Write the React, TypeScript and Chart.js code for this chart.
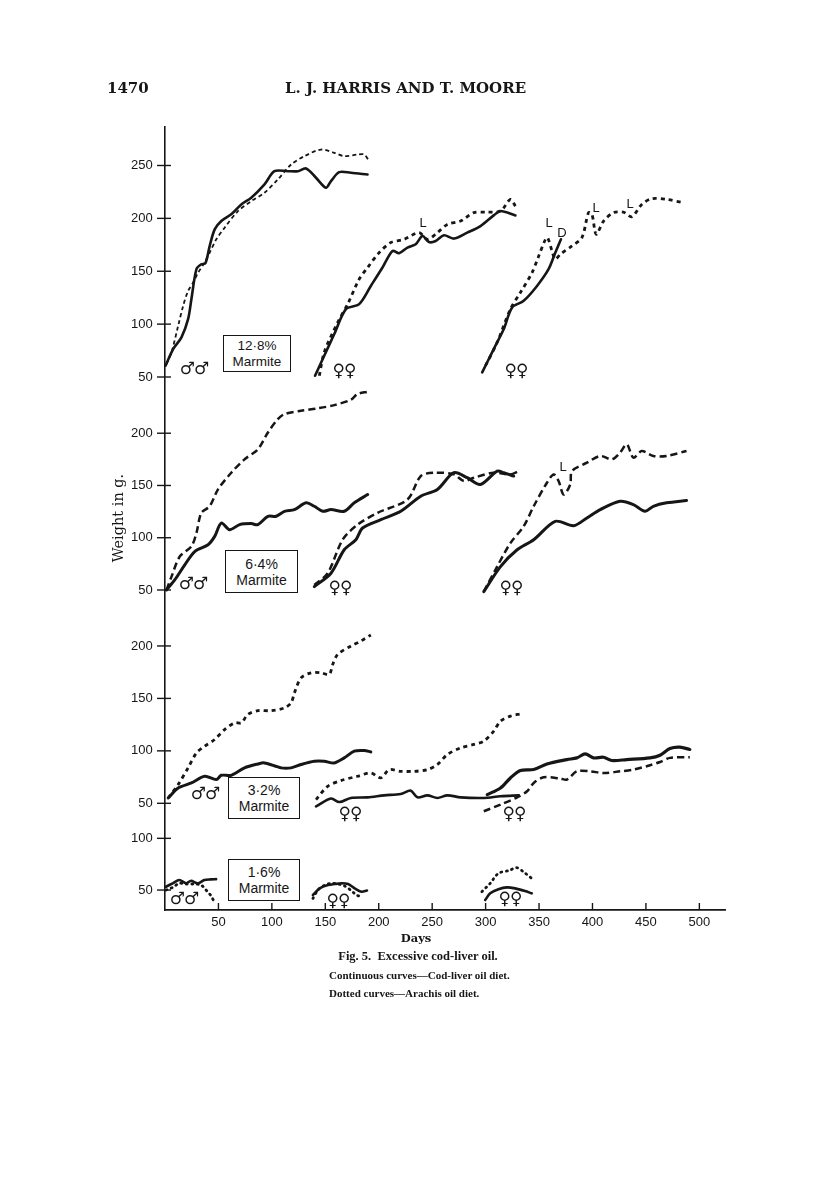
import React, { useEffect, useRef } from 'react';
import { Chart, registerables } from 'chart.js';

Chart.register(...registerables);

type Pt = [number, number];

// ---- x axis ----
const xTickValues = [50, 100, 150, 200, 250, 300, 350, 400, 450, 500];
const xMin = 0;
const xMax = 524;

// ---- y axes (one per panel) ----
const yTicks128 = [50, 100, 150, 200, 250];
const yTicks64 = [50, 100, 150, 200];
const yTicks32 = [50, 100, 150, 200];
const yTicks16 = [50, 100];

// ---- 12.8% Marmite ----
const cod128Males: Pt[] = [[0.5,60.7],[7.6,76.4],[15.4,87.5],[21.6,104.7],[24.7,123.6],[29.4,151.9],[34,156.6],[37.8,157.5],[41.8,173.9],[46.5,189.6],[52.7,197.5],[62,203.8],[71.4,213.2],[80.7,219.5],[93.1,232.1],[102.4,244.6],[114.9,244.6],[124.3,244.6],[132,247.2],[141.3,238.4],[150.6,229],[155.3,235.2],[163,243.7],[173.9,243.1],[189.5,241.5]];
const ara128Males: Pt[] = [[1.4,62.3],[6.1,73.3],[12.3,98.4],[17,117.3],[21.6,131.4],[26.3,139.3],[31,148.8],[37.1,158.2],[41.8,167.6],[48,180.2],[55.8,191.2],[68.3,206.9],[80.7,216.3],[93.1,224.2],[105.6,236.8],[118,250.9],[130.4,258.8],[146,265.1],[158.4,262],[167.7,258.8],[180.2,260.4],[186.4,260.4],[190.1,255.7]];
const cod128FemA: Pt[] = [[140.4,51.2],[149,70.1],[158.4,90.6],[169.3,114.2],[181.7,118.9],[192.6,136.1],[203.5,153.5],[212.9,169.2],[219,167],[226.9,172.4],[234.6,175.5],[240.9,183.3],[247,177.6],[253.3,178.6],[261,184],[270.3,180.9],[282.8,186.5],[295.2,192.7],[307.6,202.8],[313.9,206.9],[327.9,202.8]];
const ara128FemA: Pt[] = [[144.4,51.2],[149,73.3],[161.6,101.6],[170.9,118.9],[181.7,142.5],[189.6,153.5],[200.4,167.6],[211.3,177.1],[223.7,180.2],[237.7,186.5],[245.5,180.2],[254.9,186.5],[264.2,194.3],[276.6,197.5],[289,205.4],[301.5,205.9],[313.9,206.9],[323.2,217.9],[327.9,211.6]];
const cod128FemB: Pt[] = [[296.8,54.4],[307.6,76.4],[317,95.3],[324.8,115.8],[335.6,122],[348.1,136.1],[358.9,151.9],[365.2,167.6],[370.5,180.2]];
const ara128FemB: Pt[] = [[299.9,60.7],[310.8,82.7],[323.2,114.2],[332.6,129.9],[343.5,148.8],[349.7,164.4],[356,180.2],[358,181.8],[362.1,169.2],[365.2,161.3],[369.9,166],[380.8,173.9],[390.1,181.8],[396.3,205.4],[399.5,203.8],[403.5,184.9],[410.4,197.5],[419.7,205.4],[429,205.9],[436.9,201.6],[446.1,213.2],[455.4,218.6],[469.4,217.9],[484.9,214.8]];

// ---- 6.4% Marmite ----
const cod64Males: Pt[] = [[1.4,50],[9.1,59.6],[18.5,74],[27.8,86.8],[40.3,93.3],[46.5,101.3],[52.7,114.1],[60.4,107.7],[69.8,112.5],[80.7,113.5],[86.9,112.5],[96.3,120.5],[104,120.5],[111.8,125.3],[121.1,126.9],[132,133.4],[139.7,130.1],[147.6,125.3],[155.3,126.9],[167.7,125.3],[177.1,133.4],[189.6,141.3]];
const ara64Males: Pt[] = [[1.4,50],[6.1,62.8],[13.8,82],[24.7,91.7],[29.4,104.5],[34,123.8],[41.8,130.1],[49.6,146.2],[62,162.2],[74.4,175],[86.9,184.6],[96.3,200.7],[105.6,213.5],[111.8,218.3],[127.3,221.5],[142.9,223.8],[158.4,226.9],[173.9,232],[180.2,237.5],[189.6,239.7]];
const cod64FemA: Pt[] = [[139.7,53.2],[155.3,66],[167.7,88.5],[178.6,98.1],[184.9,109.3],[202,117.3],[220.6,125.3],[239.3,139.7],[254.9,146.2],[270.3,162.2],[282.8,157.4],[295.2,151],[310.8,163.7],[317,162.2],[326.3,159]];
const ara64FemA: Pt[] = [[139.7,54.8],[152.2,66],[166.2,98.1],[180.2,112.5],[198.9,123.8],[226.9,136.5],[239.3,159],[251.7,162.2],[270.3,160.6],[279.7,154.2],[289,157.4],[307.6,162.2],[323.2,160.6],[331,163.7]];
const cod64FemB: Pt[] = [[298.3,48.4],[313.9,72.4],[329.5,88.5],[345,98.1],[365.2,115.7],[382.3,111.5],[394.8,118.9],[407.3,126.9],[425.8,134.9],[438.3,131.7],[449.2,125.3],[456.9,130.1],[469.4,133.4],[488,135.6]];
const ara64FemB: Pt[] = [[298.3,48.4],[310.8,72.4],[323.2,94.9],[335.6,110.9],[345,130.1],[357.4,152.6],[363.7,160.6],[368.3,154.2],[373,141.3],[379.2,151],[380.8,163.7],[394.8,171.8],[407.3,178.2],[418.1,175],[425.8,181.4],[432.1,189.4],[438.3,176.6],[446.1,183],[456.9,178.2],[469.4,178.2],[488,183]];

// ---- 3.2% Marmite ----
const cod32Males: Pt[] = [[3,55.1],[12.3,64.6],[24.7,69.4],[37.1,75.8],[48,72.6],[52.7,76.7],[62,76.7],[74.4,83.8],[86.9,87.5],[93.1,88.5],[108.7,83.8],[118,83.8],[127.3,87],[139.7,90.1],[149,90.1],[158.4,88.5],[167.7,93.3],[177.1,99.7],[186.4,100.3],[192.6,99]];
const ara32Males: Pt[] = [[3,55.1],[12.3,67.9],[21.6,83.8],[29.4,98],[37.1,104.4],[46.5,110.8],[55.8,120.3],[65.1,126.7],[71.4,126.7],[77.6,134.7],[86.9,138.3],[99.3,138.3],[111.8,141],[118,145.8],[121.1,155.3],[127.3,169.6],[136.7,174.4],[146,174.4],[153.7,172.8],[156.9,182.4],[161.6,191.9],[174,200],[183.3,204.7],[192.6,210.5]];
const cod32FemA: Pt[] = [[141.3,47.1],[155.3,54.5],[163.1,51.2],[173.9,55.1],[189.6,55.7],[205,57.6],[220.6,58.9],[229.9,62.1],[236.2,55.7],[245.5,57.6],[254.9,55.1],[264.2,57.6],[276.6,55.7],[298.3,55.1],[313.9,56.7],[331,57.6]];
const ara32FemA: Pt[] = [[141.3,53.5],[152.2,66.2],[164.6,71.7],[180.2,75.8],[192.6,78.9],[202,74.2],[209.7,82.1],[220.6,80.5],[233,80.5],[245.5,82.1],[254.9,87],[264.2,96.5],[276.6,102.8],[289,106.1],[298.3,109.2],[307.6,118.8],[313.9,128.3],[323.2,133.1],[332.6,135.3]];
const cod32FemB: Pt[] = [[301.5,58.3],[313.9,64.6],[323.2,74.2],[332.6,81.2],[345,82.2],[357.4,87.5],[376.1,91.7],[385.4,93.3],[393.2,97.1],[401,93.3],[410.3,93.9],[418.1,90.8],[432.1,91.7],[453.8,93.3],[463.2,95.8],[472.5,102.2],[481.8,103.5],[491.1,101.3]];
const ara32FemB: Pt[] = [[298.3,42.4],[313.9,48.8],[329.5,55.7],[338.8,61.5],[345,69.4],[354.3,74.8],[369.9,73.6],[376.1,72.6],[385.4,80.5],[397.9,80.5],[410.3,78.9],[425.8,80.5],[438.3,82.1],[453.8,86.3],[463.2,89.4],[472.5,93.3],[491.1,93.9]];

// ---- 1.6% Marmite ----
const cod16Males: Pt[] = [[0.9,53.2],[7.2,56.5],[13.4,59.7],[19.7,56.5],[24.4,59],[30.6,56.5],[36.9,59.7],[43.1,60.3],[47.8,60.6]];
const ara16Males: Pt[] = [[0.9,50],[7.2,52.6],[13.4,56.5],[19.7,55.8],[27.5,55.8],[33.8,54.8],[38.4,50],[42.5,45.2],[45.6,39.7]];
const cod16FemA: Pt[] = [[138.4,45.2],[144.7,51.6],[152.5,54.8],[158.8,55.8],[165,56.5],[171.3,55.8],[177.5,51.6],[183.8,48.4],[189,49.5]];
const ara16FemA: Pt[] = [[138.4,41.9],[143.1,50],[149.4,54.8],[155.6,56.5],[161.9,55.8],[168.1,53.9],[174.4,49.4],[179.1,45.2],[183.8,43.5]];
const cod16FemB: Pt[] = [[299.6,40.3],[304.3,46.8],[312,50.7],[319.8,52.6],[327.6,51.6],[336.9,49],[343.1,46.8]];
const ara16FemB: Pt[] = [[296.5,48.4],[304.3,56.5],[312,66.2],[321.4,68.7],[329.1,71.6],[335.3,67.7],[343.1,61.3]];

const INK = '#161616';

const solid = { borderWidth: 2.6, borderDash: [] as number[], borderCapStyle: 'round' };
const dashA = { borderWidth: 1.8, borderDash: [4, 3], borderCapStyle: 'butt' };
const dashB = { borderWidth: 2.8, borderDash: [4, 4], borderCapStyle: 'butt' };
const dashC = { borderWidth: 2.5, borderDash: [7, 4], borderCapStyle: 'butt' };
const dots = { borderWidth: 2.8, borderDash: [1, 4.5], borderCapStyle: 'round' };

function ds(pts: Pt[], yAxisID: string, style: any) {
  return {
    data: pts.map(([x, y]) => ({ x, y })),
    yAxisID,
    borderColor: INK,
    backgroundColor: INK,
    pointRadius: 0,
    tension: 0.3,
    fill: false,
    borderJoinStyle: 'round',
    ...style,
  };
}

const sans = "'Liberation Sans', Arial, sans-serif";
const serif = "'DejaVu Serif', 'Liberation Serif', serif";
const symFont = "'DejaVu Sans', sans-serif";

function yScale(min: number, max: number, ticks: number[], border: boolean) {
  return {
    type: 'linear',
    position: 'left',
    min,
    max,
    afterFit: (s: any) => { s.width = 0; },
    afterBuildTicks: (s: any) => { s.ticks = ticks.map((v) => ({ value: v })); },
    grid: { display: false, drawTicks: false },
    border: { display: border, color: INK, width: 1.6 },
    ticks: {
      color: INK,
      mirror: true,
      crossAlign: 'far',
      padding: -34,
      font: { family: sans, size: 13 },
      callback: (v: any) => String(v),
    },
  };
}

const yIds = ['y128', 'y64', 'y32', 'y16'];

const tickMarks = {
  id: 'tickMarks',
  afterDraw(chart: any) {
    const ctx = chart.ctx;
    ctx.save();
    ctx.strokeStyle = INK;
    ctx.lineWidth = 1.4;
    const xs = chart.scales.x;
    xs.ticks.forEach((t: any) => {
      const px = xs.getPixelForValue(t.value);
      ctx.beginPath();
      ctx.moveTo(px, xs.top);
      ctx.lineTo(px, xs.top - 7);
      ctx.stroke();
    });
    yIds.forEach((id) => {
      const s = chart.scales[id];
      s.ticks.forEach((t: any) => {
        const py = s.getPixelForValue(t.value);
        ctx.beginPath();
        ctx.moveTo(s.right - 8, py);
        ctx.lineTo(s.right + 6, py);
        ctx.stroke();
      });
    });
    ctx.restore();
  },
};

function Box({ left, top, w, h, pct, fs }: any) {
  return (
    <div style={{ position: 'absolute', left, top, width: w, height: h, border: `1.5px solid ${INK}`, boxSizing: 'border-box', display: 'flex', flexDirection: 'column', justifyContent: 'center', alignItems: 'center', fontFamily: sans, fontSize: fs, lineHeight: `${fs + 2}px`, color: INK, background: '#fff' }}>
      <div>{pct}</div>
      <div>Marmite</div>
    </div>
  );
}

function Sym({ x, y, t }: any) {
  return <div style={{ position: 'absolute', left: x, top: y, transform: 'translate(-50%,-50%)', fontFamily: symFont, fontSize: 17, color: INK, whiteSpace: 'nowrap', letterSpacing: '-1px' }}>{t}</div>;
}

function Lab({ x, y, t }: any) {
  return <div style={{ position: 'absolute', left: x, top: y, transform: 'translate(-50%,-50%)', fontFamily: sans, fontSize: 13, color: INK }}>{t}</div>;
}

export default function App() {
  const ref = useRef<HTMLCanvasElement>(null);
  useEffect(() => {
    if (!ref.current) return;
    const chart = new Chart(ref.current, {
      type: 'line',
      data: {
        datasets: [
          ds(cod128Males, 'y128', solid), ds(ara128Males, 'y128', dashA),
          ds(cod128FemA, 'y128', solid), ds(ara128FemA, 'y128', dashB),
          ds(cod128FemB, 'y128', solid), ds(ara128FemB, 'y128', dashB),
          ds(cod64Males, 'y64', { ...solid, borderWidth: 3 }), ds(ara64Males, 'y64', dashC),
          ds(cod64FemA, 'y64', { ...solid, borderWidth: 3 }), ds(ara64FemA, 'y64', dashC),
          ds(cod64FemB, 'y64', { ...solid, borderWidth: 3 }), ds(ara64FemB, 'y64', dashC),
          ds(cod32Males, 'y32', { ...solid, borderWidth: 3 }), ds(ara32Males, 'y32', dashB),
          ds(cod32FemA, 'y32', solid), ds(ara32FemA, 'y32', dashB),
          ds(cod32FemB, 'y32', { ...solid, borderWidth: 3.2 }), ds(ara32FemB, 'y32', dashC),
          ds(cod16Males, 'y16', solid), ds(ara16Males, 'y16', dots),
          ds(cod16FemA, 'y16', solid), ds(ara16FemA, 'y16', dots),
          ds(cod16FemB, 'y16', solid), ds(ara16FemB, 'y16', dots),
        ] as any,
      },
      options: {
        animation: false,
        responsive: false,
        devicePixelRatio: 1,
        layout: { padding: { left: 165, right: 91, top: 127, bottom: 265 } },
        plugins: { legend: { display: false }, tooltip: { enabled: false }, title: { display: false } },
        scales: {
          x: {
            type: 'linear',
            position: 'bottom',
            min: xMin,
            max: xMax,
            afterFit: (s: any) => { s.height = 25; },
            afterBuildTicks: (s: any) => { s.ticks = xTickValues.map((v) => ({ value: v })); },
            grid: { display: false, drawTicks: false },
            border: { display: true, color: INK, width: 1.8 },
            ticks: { color: INK, padding: 5, maxRotation: 0, autoSkip: false, font: { family: sans, size: 13 }, callback: (v: any) => String(v) },
          },
          y128: yScale(-454, 286.4, yTicks128, true),
          y64: yScale(-256.2, 493, yTicks64, false),
          y32: yScale(-51.7, 694.7, yTicks32, false),
          y16: yScale(30.7, 787.9, yTicks16, false),
        } as any,
      },
      plugins: [tickMarks],
    });
    return () => chart.destroy();
  }, []);

  return (
    <div style={{ position: 'absolute', left: 0, top: 0, width: 816, height: 1200, background: '#fff', overflow: 'hidden' }}>
      <canvas ref={ref} width={816} height={1200} style={{ position: 'absolute', left: 0, top: 0, width: 816, height: 1200 }} />
      <div style={{ position: 'absolute', left: 107, top: 79, fontFamily: serif, fontWeight: 'bold', fontSize: 15, color: INK }}>1470</div>
      <div style={{ position: 'absolute', left: 285, top: 79, fontFamily: serif, fontWeight: 'bold', fontSize: 15, color: INK, whiteSpace: 'nowrap' }}>L. J. HARRIS AND T. MOORE</div>
      <div style={{ position: 'absolute', left: 118, top: 518, transform: 'translate(-50%,-50%) rotate(-90deg)', fontFamily: serif, fontSize: 14.5, color: INK, whiteSpace: 'nowrap' }}>Weight in g.</div>

      <Box left={223} top={335} w={68} h={37} pct="12·8%" fs={13.5} />
      <Box left={225} top={550} w={73} h={43} pct="6·4%" fs={14} />
      <Box left={228} top={777} w={72} h={42} pct="3·2%" fs={14} />
      <Box left={228} top={859} w={72} h={42} pct="1·6%" fs={14} />

      <Sym x={194} y={368} t="♂♂" />
      <Sym x={344} y={370} t="♀♀" />
      <Sym x={516} y={370} t="♀♀" />
      <Sym x={193} y={583} t="♂♂" />
      <Sym x={340} y={587} t="♀♀" />
      <Sym x={511} y={587} t="♀♀" />
      <Sym x={205} y={793} t="♂♂" />
      <Sym x={350} y={813} t="♀♀" />
      <Sym x={514} y={813} t="♀♀" />
      <Sym x={184} y={898} t="♂♂" />
      <Sym x={338} y={900} t="♀♀" />
      <Sym x={510} y={898} t="♀♀" />

      <Lab x={423} y={222} t="L" />
      <Lab x={549} y={222} t="L" />
      <Lab x={562} y={232} t="D" />
      <Lab x={596} y={207} t="L" />
      <Lab x={630} y={203} t="L" />
      <Lab x={563} y={466} t="L" />

      <div style={{ position: 'absolute', left: 416, top: 931, transform: 'translateX(-50%)', fontFamily: serif, fontWeight: 'bold', fontSize: 11.5, color: INK }}>Days</div>
      <div style={{ position: 'absolute', left: 418, top: 949, transform: 'translateX(-50%)', fontFamily: "'Liberation Serif', serif", fontWeight: 'bold', fontSize: 12.5, color: INK, whiteSpace: 'nowrap' }}>Fig. 5.&nbsp; Excessive cod-liver oil.</div>
      <div style={{ position: 'absolute', left: 329, top: 969, fontFamily: "'Liberation Serif', serif", fontWeight: 'bold', fontSize: 11, color: INK, whiteSpace: 'nowrap' }}>Continuous curves—Cod-liver oil diet.</div>
      <div style={{ position: 'absolute', left: 329, top: 987, fontFamily: "'Liberation Serif', serif", fontWeight: 'bold', fontSize: 11, color: INK, whiteSpace: 'nowrap' }}>Dotted curves—Arachis oil diet.</div>
    </div>
  );
}
